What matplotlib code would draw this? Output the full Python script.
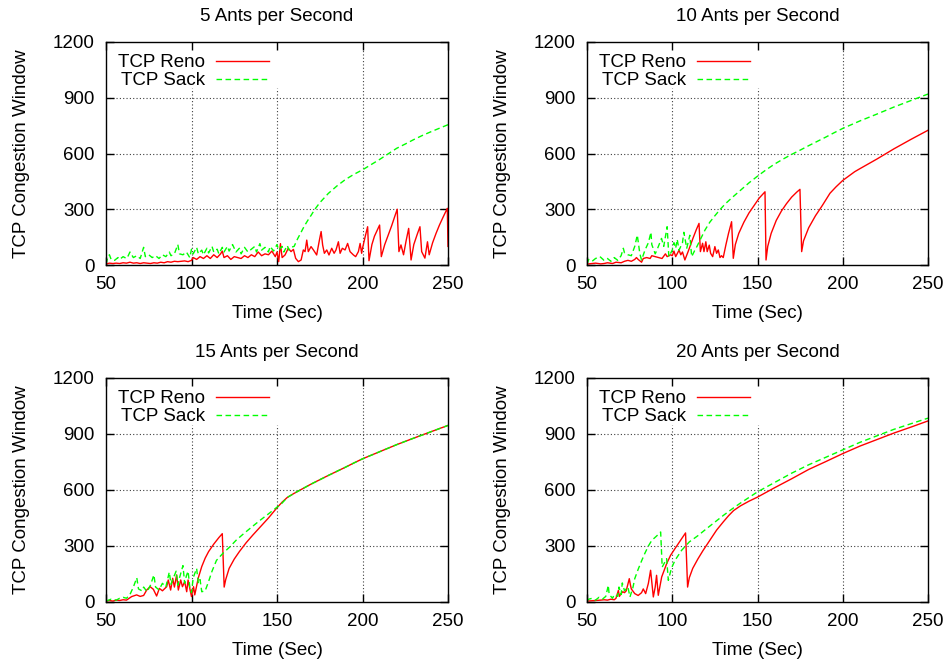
import matplotlib
matplotlib.use("Agg")
import matplotlib.pyplot as plt

plt.rcParams['font.family'] = ['Liberation Sans', 'DejaVu Sans']
plt.rcParams['font.size'] = 13.5

# panel titles (ants injected per second)
titles = ['5 Ants per Second', '10 Ants per Second',
          '15 Ants per Second', '20 Ants per Second']

# ---- 5 ants per second ----
t_reno_5 = [50, 52, 54, 56, 58, 60, 62, 64, 66, 68,
            70, 72, 74, 76, 78, 80, 82, 84, 86, 88,
            90, 92, 94, 96, 98, 100, 101, 103, 105, 107,
            109, 111, 113, 115, 117, 118, 119, 121, 123, 125,
            127, 129, 131, 133, 135, 137, 139, 141, 143, 145,
            147, 149, 150, 151, 152, 153,
            154.7, 156.6, 158.2, 159.6, 160.9, 162.5, 164.1, 165.4, 166.4, 167.4,
            168.3, 169.9, 171.3, 173.2, 174.8, 175.8, 176.7, 177.7, 179.1, 180.4,
            182.0, 183.4, 184.5, 185.9, 186.9, 188.2, 189.8, 191.3, 192.7, 194.7,
            196.0, 197.6, 198.6, 199.5, 200.0,
            201.5, 203, 203.8, 205.5, 207, 210, 211, 213, 215, 217,
            219, 220.3, 221.3, 222.5, 224, 225.5, 227, 228.4, 230, 232,
            233.6, 234.6, 236.5, 238, 239, 241, 243, 245, 247, 249.6,
            250]
cw_reno_5 = [5, 10, 8, 10, 8, 12, 10, 15, 10, 12,
             8, 12, 10, 8, 12, 10, 15, 12, 18, 15,
             20, 18, 20, 22, 18, 25, 40, 30, 45, 35,
             50, 35, 55, 40, 60, 75, 40, 50, 30, 45,
             40, 35, 50, 40, 55, 45, 70, 50, 60, 55,
             75, 45, 70, 18, 115, 40,
             54, 90, 72, 84, 36, 18, 27, 81, 72, 134,
             72, 99, 81, 54, 134, 180, 107, 63, 81, 54,
             90, 63, 81, 125, 63, 90, 81, 116, 72, 54,
             45, 72, 116, 63, 90,
             150, 206, 23, 110, 155, 215, 45, 110, 160, 210,
             265, 300, 72, 108, 55, 130, 197, 27, 110, 165,
             206, 72, 37, 125, 55, 120, 170, 215, 255, 305,
             100]
t_sack_5 = [50, 51, 52, 53, 55, 57, 58, 60, 62, 63,
            64, 66, 68, 70, 72, 73, 75, 77, 79, 81,
            83, 85, 87, 88, 90, 92, 93, 95, 97, 99,
            100, 101, 103, 104, 106, 107, 109, 110, 112, 113,
            115, 116, 118, 119, 121, 122, 124, 126, 128, 129,
            131, 133, 135, 137, 138, 140, 141, 143, 145, 146,
            148, 150, 151, 153, 154, 156, 157, 158,
            160, 162, 164, 166, 168, 170, 172, 175, 180, 185,
            190, 195, 200, 205, 210, 215, 220, 225, 230, 235,
            240, 245, 250]
cw_sack_5 = [5, 40, 55, 30, 25, 40, 30, 45, 35, 50,
             70, 40, 50, 35, 95, 45, 55, 40, 50, 35,
             55, 45, 70, 50, 60, 110, 60, 55, 70, 40,
             85, 60, 95, 60, 80, 55, 90, 65, 100, 70,
             85, 60, 95, 70, 100, 75, 110, 70, 90, 60,
             95, 70, 85, 100, 70, 115, 80, 95, 70, 100,
             75, 110, 80, 100, 70, 105, 80, 95,
             100, 140, 175, 210, 240, 268, 298, 335, 385, 425,
             460, 488, 512, 540, 568, 598, 628, 651, 675, 697,
             717, 736, 755]

# ---- 10 ants per second ----
t_reno_10 = [50, 53, 55, 58, 60, 62, 65, 67, 70, 72,
             74, 76, 78, 79, 80, 82, 83, 85, 87, 88,
             90, 92, 94, 96, 97, 99, 100, 101, 102, 104,
             105, 106, 107.4, 109.3, 112.2, 114.1, 115.7, 116.5, 117.8, 118.6,
             119.7, 120.5, 121.7, 122.5, 123.7, 125, 126, 127, 128, 128.9,
             129.9, 131.5, 133, 134.8, 135.8, 137, 139, 142, 145, 148,
             151, 154.4, 155, 156, 158, 161, 164, 167, 170, 173,
             174.9, 175.9, 177, 180, 184, 188, 192.5, 196, 200, 207,
             210, 220, 230, 240, 250]
cw_reno_10 = [5, 8, 10, 6, 8, 12, 8, 15, 12, 20,
              25, 20, 30, 40, 30, 15, 35, 40, 35, 50,
              45, 40, 35, 60, 45, 55, 50, 75, 45, 80,
              55, 70, 27, 72, 145, 190, 224, 72, 117, 72,
              125, 72, 107, 63, 45, 99, 63, 81, 40, 50,
              40, 110, 170, 233, 36, 110, 170, 230, 280, 320,
              360, 394, 27, 100, 170, 240, 290, 330, 365, 392,
              407, 72, 130, 200, 265, 320, 386, 420, 455, 502,
              518, 570, 625, 676, 725]
t_sack_10 = [50, 51, 53, 55, 57.6, 60, 62, 64, 66, 68,
             70, 71.3, 72, 74, 76, 78, 79.5, 81, 82, 84,
             86, 87.5, 88, 90, 91, 93.7, 95, 97, 98, 100,
             101, 102, 102.9, 104, 106, 106.8, 108.5, 110.3, 111.4,
             113, 114.5, 116.3, 119.2, 122, 125, 128, 131, 135, 140,
             145, 150, 155, 160, 165, 170, 175, 180, 185, 190,
             195, 200, 210, 220, 230, 240, 250]
cw_sack_10 = [5, 30, 20, 35, 45, 25, 35, 20, 40, 25,
              50, 90, 65, 55, 50, 100, 161, 60, 27, 80,
              120, 176, 110, 60, 80, 143, 100, 206, 45, 80,
              120, 90, 138, 80, 120, 176, 90, 160, 45,
              75, 100, 134, 188, 230, 265, 298, 328, 362, 402,
              442, 478, 512, 543, 570, 595, 618, 642, 665, 688,
              712, 735, 775, 812, 850, 885, 920]

# ---- 15 ants per second ----
t_reno_15 = [50, 52, 54, 56, 58, 60, 62, 65, 67.9, 70,
             72, 73.8, 75.8, 77.7, 79.6, 81.2, 83, 85.5, 86.4, 87.8,
             89, 90, 91.3, 92.3, 93.7, 94.7, 96, 97.2, 98, 99.2,
             100, 101.2, 101.9,
             104, 106, 108, 110, 113, 116, 118, 119.1, 120, 122,
             125, 128, 132, 136, 140, 145, 150, 153, 156,
             160, 165, 170, 175, 180, 185, 190, 195, 200, 210,
             220, 230, 240, 250]
cw_reno_15 = [5, 8, 5, 10, 8, 12, 10, 29, 38, 30,
              35, 64, 82, 68, 32, 73, 60, 82, 118, 64,
              127, 80, 145, 64, 118, 82, 109, 55, 118, 64,
              29, 82, 38,
              130, 190, 235, 270, 310, 345, 366, 80, 120, 180,
              230, 270, 318, 360, 400, 450, 505, 535, 560,
              582, 607, 632, 655, 678, 700, 722, 745, 767, 805,
              843, 878, 912, 946]
t_sack_15 = [50, 53, 56, 58, 60, 62, 64, 66, 68, 69,
             71, 72, 74, 76, 78, 79, 81, 83, 85, 87,
             88, 89, 91, 92, 93, 95, 96, 97, 98, 99,
             100, 101, 103, 104, 105, 106, 108,
             110, 112, 114.6, 118.5, 122.4, 126, 130, 135, 140, 145,
             150, 153, 156,
             160, 165, 170, 175, 180, 185, 190, 195, 200, 210,
             220, 230, 240, 250]
cw_sack_15 = [5, 15, 10, 20, 25, 20, 40, 80, 130, 70,
              60, 80, 55, 90, 145, 80, 65, 100, 80, 160,
              95, 120, 165, 90, 130, 195, 100, 140, 165, 80,
              50, 130, 180, 100, 120, 55, 60,
              110, 165, 223, 262, 295, 330, 362, 400, 437, 472,
              508, 530, 560,
              582, 607, 632, 655, 678, 700, 722, 745, 767, 805,
              843, 878, 912, 946]

# ---- 20 ants per second ----
t_reno_20 = [50, 55, 58, 60, 62, 64, 66, 67, 68.4, 69,
             70, 71, 72, 73, 74.8, 75.5, 76, 78, 80, 82,
             83, 84.4, 86, 87.3, 88.9, 90, 90.8, 91.8, 93.8, 96.7,
             99, 101.6, 105.5, 107.8, 109, 110, 112, 115, 118, 122,
             126, 130, 133, 136, 140, 145, 150, 160, 170, 180,
             190, 200, 210, 220, 230, 240, 250]
cw_reno_20 = [5, 8, 10, 12, 10, 15, 12, 20, 62, 30,
              45, 55, 50, 60, 125, 90, 70, 45, 35, 50,
              70, 45, 100, 170, 27, 80, 143, 36, 134, 205,
              250, 286, 339, 370, 80, 130, 180, 230, 275, 330,
              385, 430, 462, 490, 515, 540, 562, 612, 660, 710,
              752, 795, 835, 870, 905, 937, 970]
t_sack_20 = [50, 51, 53, 55, 57, 59, 61, 62.5, 63, 65,
             66, 68, 68.75, 70, 70.7, 72, 74, 75.2, 77, 78,
             80, 82, 84, 86, 88, 91, 93.2, 94.1, 96.7, 97.7,
             99.5, 101.6, 105.5, 110, 115, 120, 125, 130, 135, 140,
             145, 150, 160, 170, 180, 190, 200, 210, 220, 230,
             240, 250]
cw_sack_20 = [5, 15, 20, 10, 25, 15, 30, 89, 40, 20,
              40, 30, 80, 40, 102, 60, 80, 27, 80, 125,
              175, 220, 262, 300, 330, 355, 375, 187, 232, 116,
              180, 223, 277, 322, 355, 392, 428, 464, 498, 530,
              560, 590, 640, 690, 735, 775, 815, 855, 890, 925,
              955, 985]

reno_t = [t_reno_5, t_reno_10, t_reno_15, t_reno_20]
reno_cw = [cw_reno_5, cw_reno_10, cw_reno_15, cw_reno_20]
sack_t = [t_sack_5, t_sack_10, t_sack_15, t_sack_20]
sack_cw = [cw_sack_5, cw_sack_10, cw_sack_15, cw_sack_20]

x_ticks = [50, 100, 150, 200, 250]
y_ticks = [0, 300, 600, 900, 1200]

W, H = 949, 663
# axes boxes in pixels: left, top, right, bottom
boxes = [(106, 42, 448, 265), (587, 42, 928, 265),
         (106, 378, 448, 602), (587, 378, 928, 602)]

fig = plt.figure(figsize=(W / 100, H / 100), dpi=100)

for i, (l, t, r, b) in enumerate(boxes):
    ax = fig.add_axes([l / W, 1 - b / H, (r - l) / W, (b - t) / H])
    ax.set_xlim(50, 250)
    ax.set_ylim(0, 1200)
    ax.set_xticks(x_ticks)
    ax.set_yticks(y_ticks)

    # dotted grid, hidden behind the key at top-left like gnuplot
    grid_kw = dict(color='0.25', lw=0.8, ls=(0, (1, 2)), zorder=0.5)
    for gx in x_ticks[1:-1]:
        top = 1.0 if gx >= 200 else 950 / 1200
        ax.axvline(gx, ymin=0, ymax=top, **grid_kw)
    for gy in y_ticks[1:-1]:
        ax.axhline(gy, **grid_kw)

    ax.plot(reno_t[i], reno_cw[i], color='#ff0000', lw=1.0, label='TCP Reno')
    ax.plot(sack_t[i], sack_cw[i], color='#00ff00', lw=1.0,
            ls=(0, (4, 2.5)), label='TCP Sack')

    ax.tick_params(direction='in', top=True, right=True, length=6,
                   width=1, pad=8)
    for sp in ax.spines.values():
        sp.set_linewidth(1.0)

    ax.set_title(titles[i], pad=15.4, fontsize=13.5)
    ax.set_xlabel('Time (Sec)')
    ax.set_ylabel('TCP Congestion Window')
    ax.xaxis.set_label_coords(0.5, -0.18)
    ax.yaxis.set_label_coords(-0.223, 0.5)

    ax.legend(loc='upper left', frameon=False, markerfirst=False,
              handlelength=2.8, handletextpad=0.6, labelspacing=0.05,
              borderaxespad=0.35, borderpad=0.3, fontsize=13.5)

fig.savefig('out.png', dpi=100)
